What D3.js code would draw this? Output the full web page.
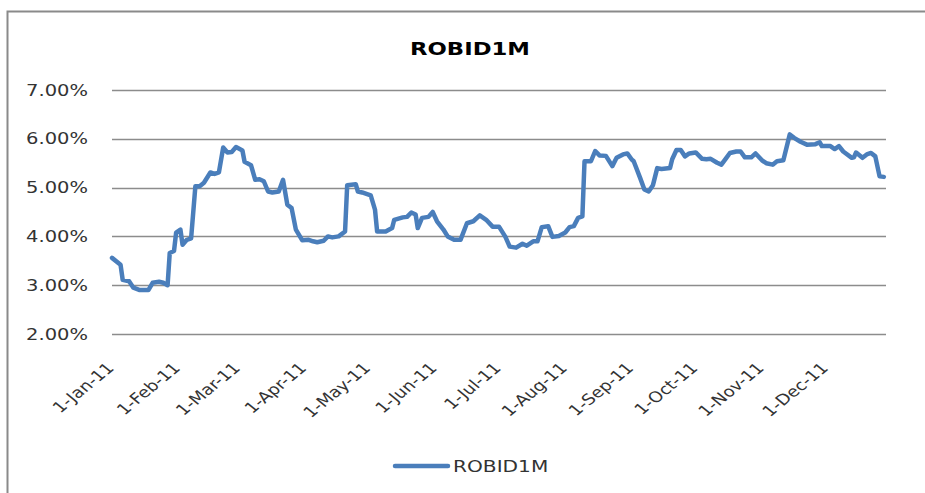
<!DOCTYPE html>
<html>
<head>
<meta charset="utf-8">
<script src="https://cdn.jsdelivr.net/npm/d3@7"></script>
<style>
body { margin: 0; background: #fff; }
svg { display: block; }
</style>
</head>
<body>
<svg id="svg0" width="925" height="493"></svg>
<script>

var chartTitle = 'ROBID1M';
var seriesName = 'ROBID1M';

var dates = [
    '2011-01-01','2011-01-05','2011-01-06','2011-01-09','2011-01-11','2011-01-14','2011-01-18','2011-01-20',
    '2011-01-23','2011-01-25','2011-01-27','2011-01-28','2011-01-30','2011-01-31','2011-02-02','2011-02-03',
    '2011-02-05','2011-02-07','2011-02-09','2011-02-11','2011-02-13','2011-02-16','2011-02-18','2011-02-20',
    '2011-02-22','2011-02-24','2011-02-26','2011-02-28','2011-03-03','2011-03-04','2011-03-07','2011-03-09',
    '2011-03-11','2011-03-13','2011-03-15','2011-03-17','2011-03-20','2011-03-22','2011-03-24','2011-03-26',
    '2011-03-28','2011-03-31','2011-04-03','2011-04-05','2011-04-07','2011-04-10','2011-04-12','2011-04-14',
    '2011-04-17','2011-04-20','2011-04-21','2011-04-25','2011-04-26','2011-04-28','2011-05-02','2011-05-04',
    '2011-05-05','2011-05-09','2011-05-12','2011-05-13','2011-05-17','2011-05-19','2011-05-21','2011-05-23',
    '2011-05-24','2011-05-26','2011-05-29','2011-05-31','2011-06-02','2011-06-05','2011-06-07','2011-06-10',
    '2011-06-13','2011-06-16','2011-06-19','2011-06-22','2011-06-25','2011-06-28','2011-07-01','2011-07-04',
    '2011-07-06','2011-07-09','2011-07-12','2011-07-14','2011-07-17','2011-07-19','2011-07-21','2011-07-24',
    '2011-07-26','2011-07-29','2011-08-01','2011-08-03','2011-08-05','2011-08-07','2011-08-09','2011-08-10',
    '2011-08-13','2011-08-15','2011-08-17','2011-08-20','2011-08-23','2011-08-25','2011-08-28','2011-08-30',
    '2011-09-01','2011-09-02','2011-09-05','2011-09-07','2011-09-09','2011-09-11','2011-09-13','2011-09-15',
    '2011-09-19','2011-09-20','2011-09-22','2011-09-24','2011-09-26','2011-09-28','2011-10-01','2011-10-04',
    '2011-10-06','2011-10-08','2011-10-11','2011-10-13','2011-10-15','2011-10-17','2011-10-20','2011-10-22',
    '2011-10-24','2011-10-27','2011-10-29','2011-11-01','2011-11-03','2011-11-06','2011-11-08','2011-11-11',
    '2011-11-14','2011-11-16','2011-11-19','2011-11-22','2011-11-26','2011-11-28','2011-11-29','2011-12-03',
    '2011-12-05','2011-12-07','2011-12-09','2011-12-13','2011-12-14','2011-12-15','2011-12-18','2011-12-20',
    '2011-12-22','2011-12-24','2011-12-26','2011-12-28'
];

var rates = [
    3.56,3.42,3.11,3.08,2.95,2.90,2.90,3.05,
    3.07,3.05,3.00,3.66,3.70,4.08,4.14,3.83,
    3.93,3.96,5.03,5.03,5.10,5.31,5.28,5.31,
    5.82,5.72,5.73,5.83,5.76,5.53,5.46,5.16,
    5.17,5.13,4.92,4.90,4.92,5.16,4.65,4.58,
    4.14,3.92,3.93,3.90,3.88,3.91,4.00,3.98,
    4.00,4.10,5.05,5.07,4.92,4.90,4.84,4.55,
    4.10,4.10,4.17,4.34,4.39,4.40,4.49,4.45,
    4.17,4.38,4.40,4.50,4.31,4.14,4.00,3.93,
    3.93,4.27,4.31,4.43,4.34,4.20,4.20,3.99,
    3.79,3.77,3.85,3.81,3.90,3.90,4.19,4.21,
    3.99,4.01,4.08,4.19,4.21,4.38,4.41,5.54,
    5.54,5.75,5.66,5.65,5.44,5.61,5.68,5.70,
    5.58,5.54,5.20,4.96,4.92,5.05,5.40,5.38,
    5.40,5.58,5.77,5.77,5.64,5.70,5.72,5.59,
    5.58,5.59,5.51,5.47,5.59,5.71,5.74,5.74,
    5.62,5.62,5.70,5.56,5.50,5.47,5.54,5.56,
    6.09,6.02,5.94,5.88,5.89,5.93,5.85,5.85,
    5.79,5.85,5.74,5.61,5.62,5.72,5.61,5.68,
    5.71,5.64,5.23,5.22
];

var yTicks = [2, 3, 4, 5, 6, 7];
var xTickDates = ['2011-01-01','2011-02-01','2011-03-01','2011-04-01','2011-05-01','2011-06-01',
    '2011-07-01','2011-08-01','2011-09-01','2011-10-01','2011-11-01','2011-12-01'];

var parseDate = d3.timeParse('%Y-%m-%d');
var fmtDate = d3.timeFormat('%-d-%b-%y');

var lineData = dates.map(function (d, i) {
    return { date: parseDate(d), value: rates[i] };
});

// text in the picture is drawn wider than it is tall
var stretch = 1.3;
var blue = '#4a7ebb';

var x = d3.scaleTime()
    .domain([parseDate('2011-01-01'), parseDate('2011-12-29')])
    .range([112, 886]);

var y = d3.scaleLinear()
    .domain([2, 7])
    .range([334, 90]);

var svg0 = d3.select('#svg0');

// chart frame
svg0.append('rect')
    .attr('x', 7.5)
    .attr('y', 11.5)
    .attr('width', 940)
    .attr('height', 500)
    .attr('fill', 'none')
    .attr('stroke', '#8a8a8a')
    .attr('stroke-width', 2);

// title
svg0.append('text')
    .attr('transform', 'translate(470,55) scale(' + stretch + ',1)')
    .attr('text-anchor', 'middle')
    .attr('font-family', 'DejaVu Sans')
    .attr('font-weight', 'bold')
    .attr('font-size', 17.5)
    .attr('fill', '#000')
    .text(chartTitle);

// gridlines
svg0.append('g')
    .selectAll('line')
    .data(yTicks)
    .enter()
    .append('line')
    .attr('x1', x.range()[0])
    .attr('x2', x.range()[1])
    .attr('y1', function (d) { return Math.round(y(d)) + 0.5; })
    .attr('y2', function (d) { return Math.round(y(d)) + 0.5; })
    .attr('stroke', '#8c8c8c')
    .attr('stroke-width', 1.3);

// y labels
svg0.append('g')
    .selectAll('text')
    .data(yTicks)
    .enter()
    .append('text')
    .attr('transform', function (d) {
        return 'translate(88,' + (y(d) + 5.5) + ') scale(' + stretch + ',1)';
    })
    .attr('text-anchor', 'end')
    .attr('font-family', 'DejaVu Sans')
    .attr('font-size', 15)
    .attr('fill', '#333')
    .text(function (d) { return d3.format('.2f')(d) + '%'; });

// x labels, rotated
svg0.append('g')
    .selectAll('text')
    .data(xTickDates)
    .enter()
    .append('text')
    .attr('transform', function (d) {
        return 'translate(' + (x(parseDate(d)) + 3) + ',369) scale(1.22,1) rotate(-45)';
    })
    .attr('text-anchor', 'end')
    .attr('font-family', 'DejaVu Sans')
    .attr('font-size', 15)
    .attr('fill', '#333')
    .text(function (d) { return fmtDate(parseDate(d)); });

// the series
var line = d3.line()
    .x(function (d) { return x(d.date); })
    .y(function (d) { return y(d.value); });

svg0.append('path')
    .datum(lineData)
    .attr('d', line)
    .attr('fill', 'none')
    .attr('stroke', blue)
    .attr('stroke-width', 4.5)
    .attr('stroke-linejoin', 'round')
    .attr('stroke-linecap', 'round');

// legend
svg0.append('line')
    .attr('x1', 395)
    .attr('x2', 448)
    .attr('y1', 466)
    .attr('y2', 466)
    .attr('stroke', blue)
    .attr('stroke-width', 4.5)
    .attr('stroke-linecap', 'round');

svg0.append('text')
    .attr('transform', 'translate(453,472) scale(' + stretch + ',1)')
    .attr('font-family', 'DejaVu Sans')
    .attr('font-size', 15.5)
    .attr('fill', '#333')
    .text(seriesName);

</script>
</body>
</html>
